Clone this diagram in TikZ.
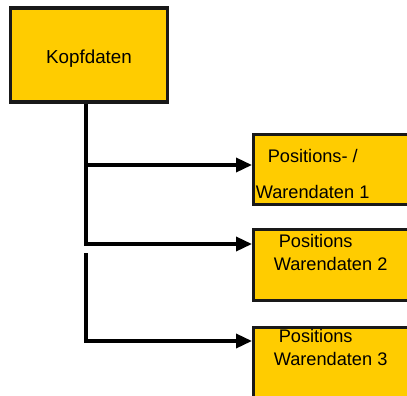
\documentclass[tikz,border=0pt]{standalone}
\usepackage{fontspec}
\setmainfont{Liberation Sans}
\usetikzlibrary{arrows.meta,positioning}
\definecolor{gelb}{RGB}{255,204,0}

\begin{document}
\begin{tikzpicture}[x=1pt,y=1pt,->,>={Triangle[length=16pt,width=14pt]},line width=3.5pt]
\tikzstyle{box}=[draw=black!90,fill=gelb,line width=2.7pt,rectangle,inner sep=0pt]
\tikzstyle{txt}=[inner sep=0pt,anchor=base west,font=\fontsize{18.2}{22}\selectfont]
\useasboundingbox (0,0) rectangle (407,-396);
\clip (0,0) rectangle (407,-396);
% header and item boxes
\node[box,line width=3.2pt,minimum width=157pt,minimum height=94pt,text height=20pt,font=\fontsize{18.8}{22}\selectfont] (kopf) at (89,-55) {Kopfdaten};
\node[box,anchor=north west,minimum width=200pt,minimum height=70pt] (pos1) at (252,-133) {};
\node[box,anchor=north west,minimum width=200pt,minimum height=71pt] (pos2) at (252,-228) {};
\node[box,anchor=north west,minimum width=200pt,minimum height=90pt] (pos3) at (252,-326) {};
\node[txt] (pos1a) at ([shift={(14,-29)}]pos1.north west) {Positions- /};
\node[txt] (pos1b) at ([shift={(2,-65)}]pos1.north west) {Warendaten 1};
\node[txt] (pos2a) at ([shift={(25,-19)}]pos2.north west) {Positions};
\node[txt] (pos2b) at ([shift={(20,-42)}]pos2.north west) {Warendaten 2};
\node[txt] (pos3a) at ([shift={(25,-16)}]pos3.north west) {Positions};
\node[txt] (pos3b) at ([shift={(20,-39)}]pos3.north west) {Warendaten 3};
% connectors
\coordinate (knick1) at (86,-165);
\coordinate (knick2) at (86,-244);
\coordinate (start3) at (86,-253);
\coordinate (knick3) at (86,-341);
\draw ([xshift=-3pt]kopf.south) |- (knick2 -| pos2.west);
\draw (knick1) -- (knick1 -| pos1.west);
\draw (start3) |- (knick3 -| pos3.west);
\end{tikzpicture}
\end{document}
